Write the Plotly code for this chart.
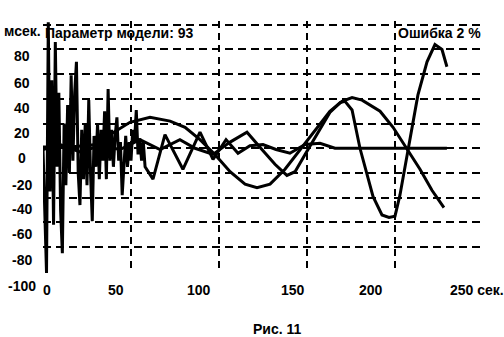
import plotly.graph_objects as go

# ---- data (seconds, milliseconds) ----
t_a = [0, 1, 2, 3, 4, 5, 6, 7, 8, 9, 10, 11, 12, 13, 14, 15, 16, 17, 18, 19, 20,
       21, 22, 23, 24, 25, 26, 27, 28, 29, 30, 31, 32, 33, 34, 35, 36, 37, 38, 39, 40,
       41, 42, 43, 44, 45, 46, 47, 48, 49, 50, 51, 52, 53, 54, 55, 56, 57, 58,
       62.5, 69.3, 79.5, 89.2, 96.6, 104, 110.8, 117.6, 125, 132.4, 140.3,
       148.9, 157.4, 165.9, 229.5]
v_a = [0, -45, -101, 102, -35, 55, -62, 86, -15, 45, -50, -85, 20, -30, 35, -20, 59, -10, 45, 70, -20,
       -46, 15, -25, 20, -30, 39, -20, -59, 10, -15, 20, -25, 15, -10, 30, -25, 48, -10, 15, -15,
       10, 25, -10, 5, -38, -10, 10, -15, 5, -10, 15, 5, 31, -5, 8, -10, 5, -15,
       -25, 11, -17, 13, -9, 7, -4, 2, 3, -1, -4,
       3, 4, 0, 0]

t_b = [0, 15.3, 30.7, 38, 49.4, 60.8, 72.2, 80.7, 89.2, 97.7, 106.3, 114.8, 121.6, 129,
       137.5, 146, 154.5, 163, 169.9, 175.6, 181.3, 191.5, 198.9, 206.8, 214.2, 221, 227.8]
v_b = [1, 1, 3, 11, 21, 25, 22, 17, 7, -5, -19, -29, -32, -29,
       -17, -1, 15, 30, 38, 41, 39, 30, 17, 0, -17, -34, -48]

t_c = [0, 9.7, 21, 32.4, 43.8, 55.1, 66.5, 77.8, 86.4, 96.6, 106.3, 115.9, 124.4, 131.8,
       138.6, 143.2, 148.9, 156.3, 163, 168.8, 171.6, 175.6, 180.1, 187.5, 192.6, 196.6,
       200, 202.8, 207.4, 213, 218.2, 222.7, 226.7, 229.5]
v_c = [-1, 3, -3, 2, -1, 7, -1, 7, 0, -5, 5, 13, -1, -13,
       -22, -19, -5, 13, 29, 37, 38, 31, 0, -39, -54, -56,
       -55, -38, -1, 43, 70, 84, 80, 66]

x_label_vals = [0, 50, 100, 150, 200, 250]
x_label_text = ["0", "50", "100", "150", "200", "250 сек."]
y_label_vals = [100, 80, 60, 40, 20, 0, -20, -40, -60, -80, -100]
y_label_text = ["мсек.", "80", "60", "40", "20", "0", "-20", "-40", "-60", "-80", "-100"]
x_grid = [50, 100, 150, 200]
y_grid = [100, 80, 60, 40, 20, 0, -20, -40, -60, -80]

title_left = "Параметр модели: 93"
title_right = "Ошибка 2 %"
caption = "Рис. 11"

# ---- styling ----
FONT = "Liberation Sans, Arial, sans-serif"
x_label_shift = [4, -15, -20, -14, -24, -35]
y_label_shift = [-6, -7, -9, -9, -9, -10, -12, -11, -12, -13, -14]

fig = go.Figure()
for tt, vv in ((t_b, v_b), (t_c, v_c), (t_a, v_a)):
    fig.add_trace(go.Scatter(x=tt, y=vv, mode="lines",
                             line=dict(color="black", width=3),
                             showlegend=False, hoverinfo="skip"))

fig.update_layout(
    width=504, height=337,
    margin=dict(l=43, r=21, t=21, b=64),
    plot_bgcolor="white", paper_bgcolor="white",
    showlegend=False,
    font=dict(family=FONT, color="black", size=14),
)
fig.update_xaxes(range=[0, 250], tickvals=x_grid, showticklabels=False,
                 showgrid=True, gridcolor="black", gridwidth=2, griddash="7px,5px",
                 zeroline=False, showline=False, ticks="", automargin=False)
fig.update_yaxes(range=[-101, 103.05], tickvals=y_grid, showticklabels=False,
                 showgrid=True, gridcolor="black", gridwidth=2, griddash="8px,5px",
                 zeroline=False, showline=False, ticks="", automargin=False)

lab_font = dict(family=FONT, size=14, color="black", weight="bold")
ann = []
for val, txt, sh in zip(x_label_vals, x_label_text, x_label_shift):
    last = txt.endswith("сек.")
    ann.append(dict(x=val, xref="x", y=0, yref="paper", text=txt, showarrow=False,
                    xanchor="left" if last else "center", yanchor="middle",
                    xshift=sh, yshift=-17, font=lab_font))
for val, txt, sh in zip(y_label_vals, y_label_text, y_label_shift):
    ann.append(dict(x=0, xref="paper", y=val, yref="y", text=txt, showarrow=False,
                    xanchor="center", yanchor="middle", xshift=-21, yshift=sh,
                    font=lab_font))
ann.append(dict(x=0, xref="paper", y=1, yref="paper", text=title_left, showarrow=False,
                xanchor="left", yanchor="middle", xshift=0, yshift=-12, font=lab_font))
ann.append(dict(x=1, xref="paper", y=1, yref="paper", text=title_right, showarrow=False,
                xanchor="right", yanchor="middle", xshift=0, yshift=-12, font=lab_font))
ann.append(dict(x=0.5, xref="paper", y=0, yref="paper", text=caption, showarrow=False,
                xanchor="center", yanchor="middle", xshift=14, yshift=-56, font=lab_font))
fig.update_layout(annotations=ann)

fig.write_html("out.html", config={"displayModeBar": False},
               post_script="document.body.style.margin='0';document.body.style.overflow='hidden';")
